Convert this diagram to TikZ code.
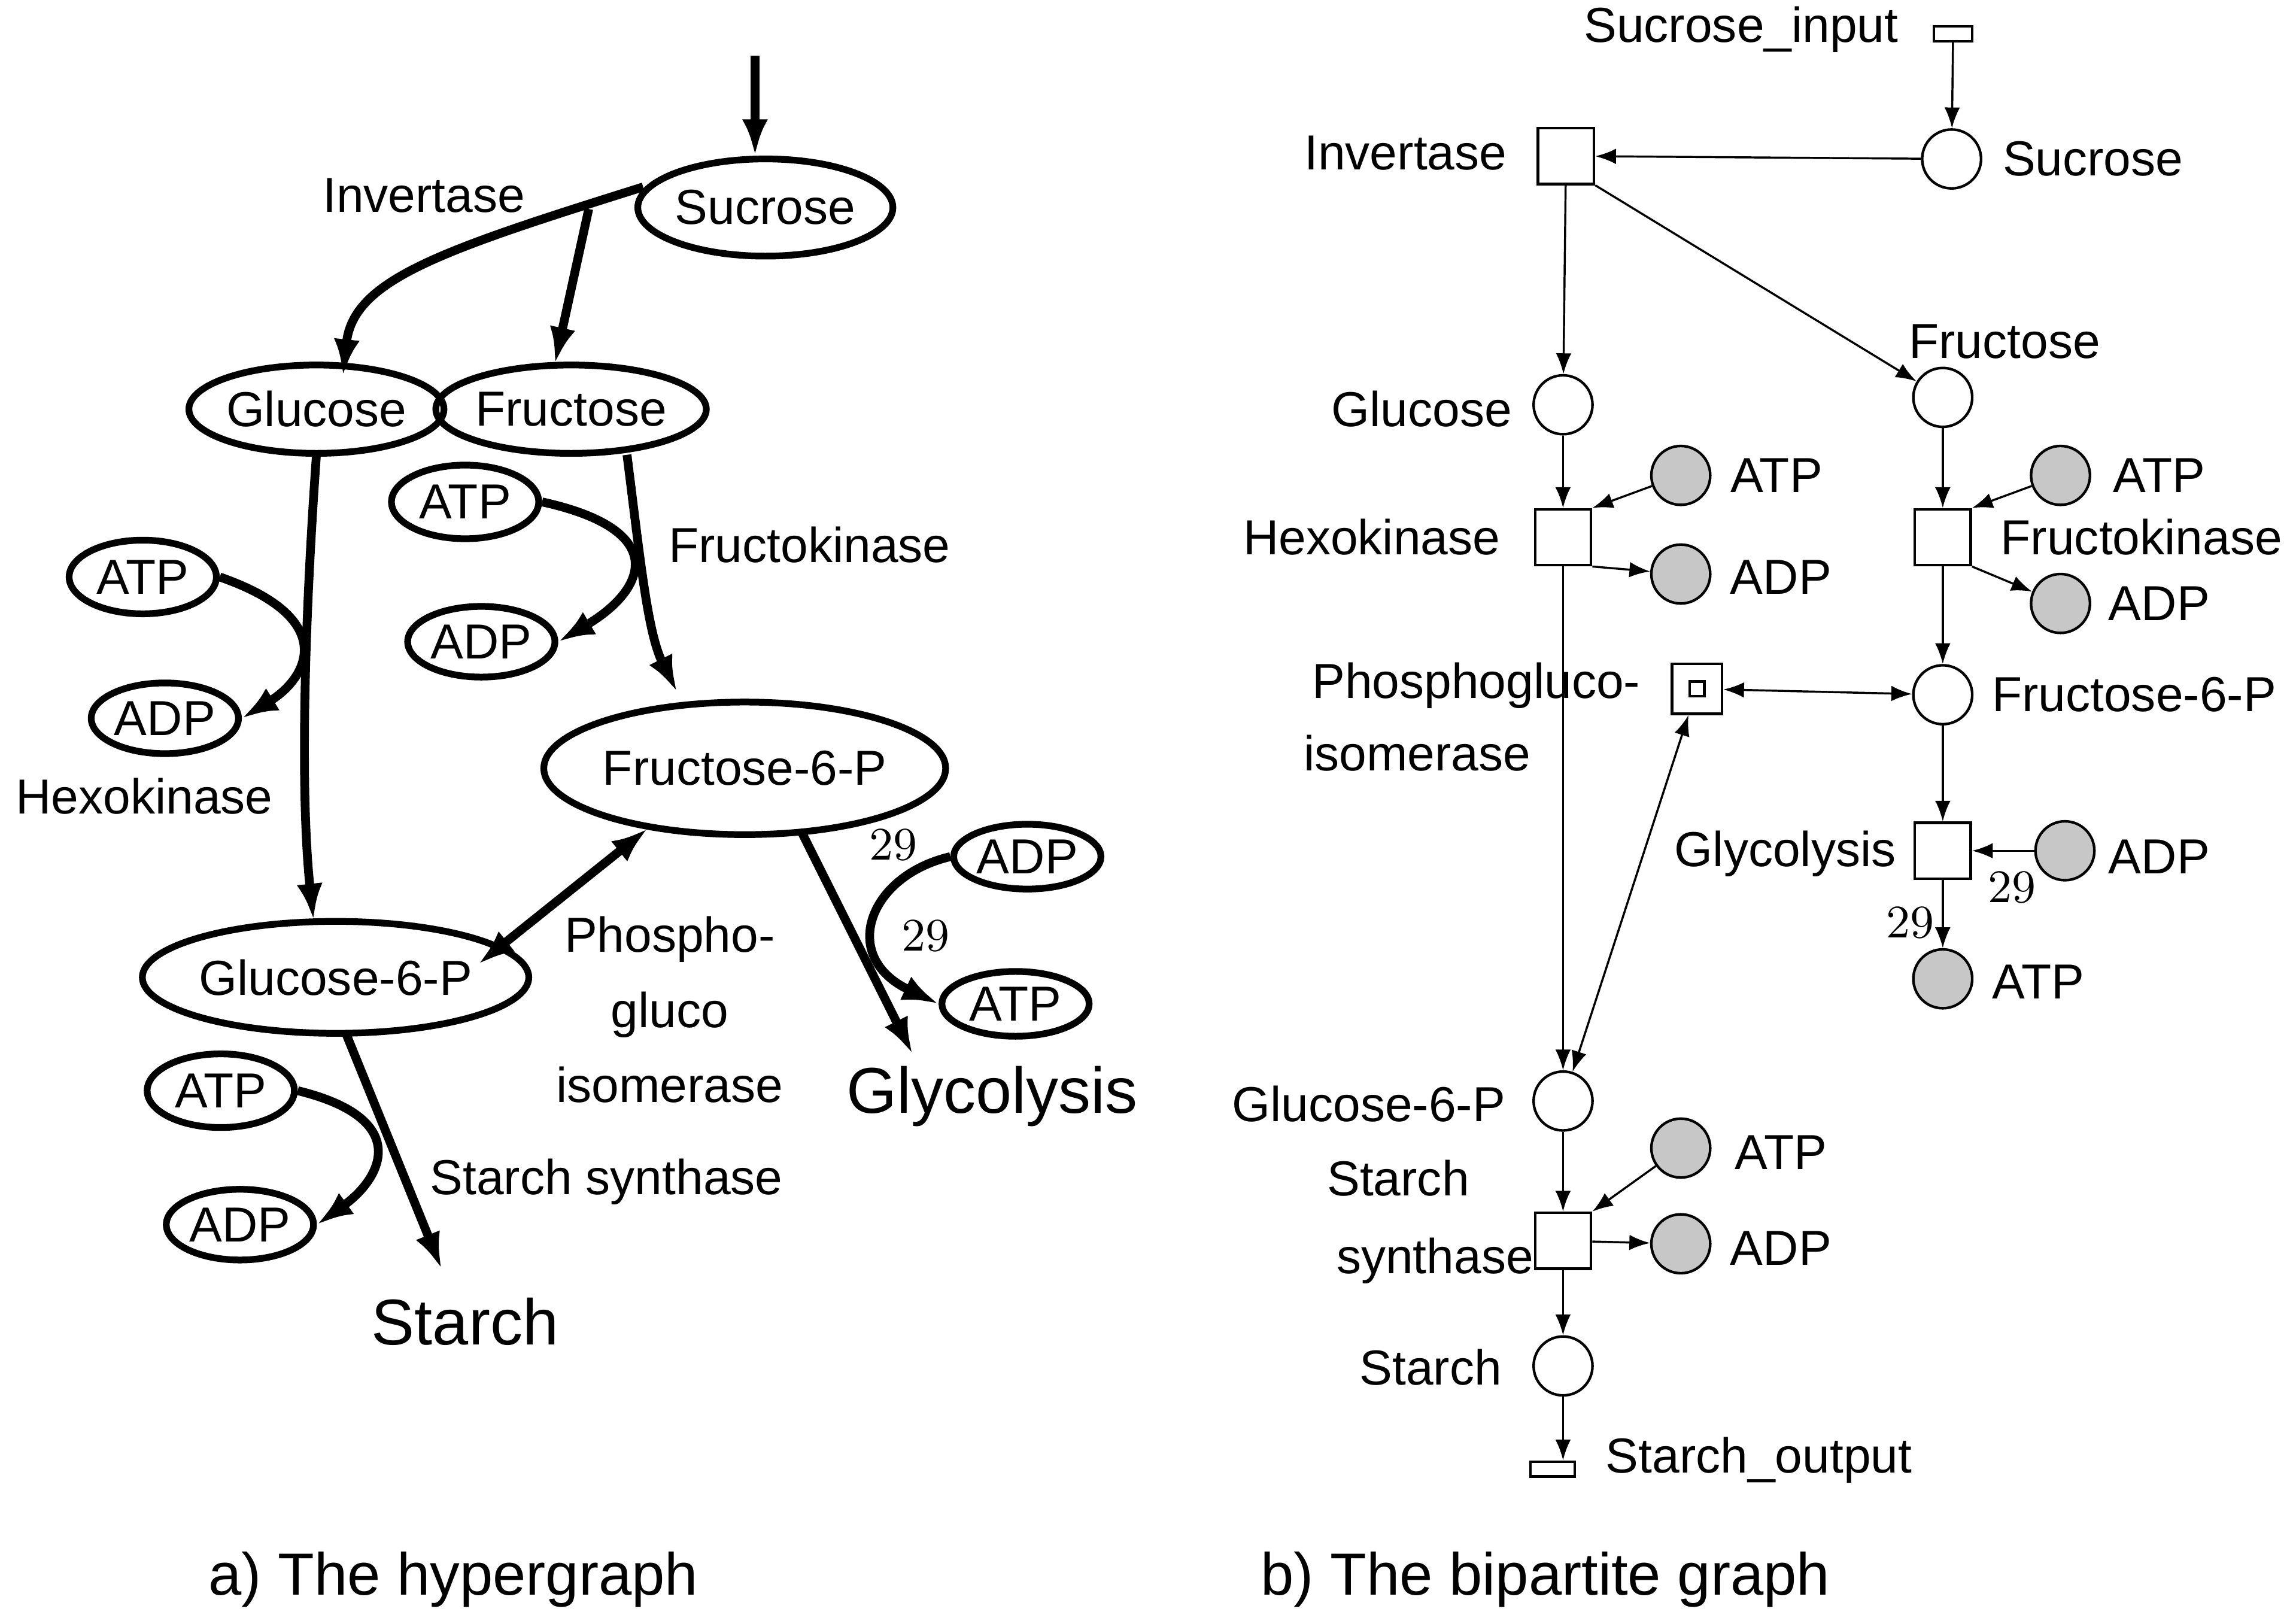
\documentclass[tikz,border=0pt]{standalone}
\usepackage{fontspec}
\setmainfont{Liberation Sans}
\usetikzlibrary{arrows.meta,shapes.geometric}
\begin{document}
\begin{tikzpicture}[x=0.01cm,y=-0.01cm,font=\fontsize{9.5}{11}\selectfont,
  ell/.style={draw,ellipse,line width=1.3pt,inner sep=0pt},
  hyp/.style={line width=1.7pt,-{Latex[length=7pt,width=5pt]}},
  pl/.style={draw,circle,minimum size=0.4cm,inner sep=0pt,line width=0.5pt},
  gpl/.style={pl,fill=black!22},
  tr/.style={draw,rectangle,minimum size=0.38cm,inner sep=0pt,line width=0.5pt},
  io/.style={draw,rectangle,minimum width=0.26cm,minimum height=0.1cm,inner sep=0pt,line width=0.5pt},
  ed/.style={line width=0.4pt,-{Latex[length=4pt,width=3pt]}},
  big/.style={font=\fontsize{12.5}{14}\selectfont},
  num/.style={font=\fontfamily{lmr}\fontsize{9}{10}\selectfont}]
\useasboundingbox (0,0) rectangle (1560,1101);
% ---------- a) hypergraph ----------
\node[ell,minimum width=1.66cm,minimum height=0.66cm] (suc) at (520,141) {Sucrose};
\node[ell,minimum width=1.64cm,minimum height=0.6cm] (glc) at (215,278) {Glucose};
\node[ell,minimum width=1.56cm,minimum height=0.6cm] (fru) at (388,278) {Fructose};
\node[ell,minimum width=1.0cm,minimum height=0.5cm] (atp1) at (316,341) {ATP};
\node[ell,minimum width=1.0cm,minimum height=0.48cm] (adp1) at (327,436) {ADP};
\node[ell,minimum width=1.0cm,minimum height=0.5cm] (atp2) at (97,392) {ATP};
\node[ell,minimum width=1.0cm,minimum height=0.48cm] (adp2) at (112,488) {ADP};
\node[ell,minimum width=2.36cm,minimum height=0.9cm] (f6p) at (506,522) {Fructose-6-P};
\node[ell,minimum width=2.16cm,minimum height=0.76cm] (g6p) at (228,664) {Glucose-6-P};
\node[ell,minimum width=1.0cm,minimum height=0.44cm] (adp3) at (698,582) {ADP};
\node[ell,minimum width=1.0cm,minimum height=0.44cm] (atp3) at (690,682) {ATP};
\node[ell,minimum width=1.0cm,minimum height=0.5cm] (atp4) at (150,741) {ATP};
\node[ell,minimum width=1.0cm,minimum height=0.48cm] (adp4) at (163,832) {ADP};
\node (linv) at (288,133) {Invertase};
\node (lfk) at (550,370) {Fructokinase};
\node (lhk) at (98,541) {Hexokinase};
\node[align=center,font=\fontsize{9.5}{14.5}\selectfont] (lpgi) at (455,686) {Phospho-\\gluco\\isomerase};
\node (lss) at (412,803) {Starch synthase};
\node[big] (starch) at (316,898) {Starch};
\node[big] (glyc) at (674,745) {Glycolysis};
\node[num] (n1) at (607,574) {29};
\node[num] (n2) at (629,636) {29};
\coordinate (top) at (513,38);
\draw[hyp] (top) -- (suc.north -| top);
\draw[hyp] (437,127) .. controls (300,170) and (240,190) .. (glc.north east -| 233,0);
\draw[hyp] (400,142) -- (377,247);
\draw[hyp] (215,309) .. controls (205,450) and (205,550) .. (213,625);
\draw[hyp] (atp2.east) .. controls (230,420) and (210,460) .. (adp2.east);
\draw[hyp] (426,309) .. controls (435,380) and (440,430) .. (460,470);
\draw[hyp] (atp1.east) .. controls (455,360) and (440,400) .. (adp1.east);
\draw[line width=1.7pt,{Latex[length=7pt,width=5pt]}-{Latex[length=7pt,width=5pt]}] (440,563) -- (325,655);
\draw[hyp] (235,702) -- (300,862);
\draw[hyp] (atp4.east) .. controls (280,760) and (260,800) .. (adp4.east);
\draw[hyp] (545,566) -- (620,716);
\draw[hyp] (adp3.west) .. controls (590,595) and (570,650) .. (atp3.west);
\node (capa) at (308,1073) {\fontsize{11.5}{13}\selectfont a) The hypergraph};
% ---------- b) bipartite graph ----------
\node[io] (sin) at (1327,23) {};
\node[pl] (psuc) at (1326,108) {};
\node[tr] (tinv) at (1064,106) {};
\node[pl] (pfru) at (1320,270) {};
\node[pl] (pglc) at (1062,275) {};
\node[tr] (thk) at (1062,365) {};
\node[gpl] (atp5) at (1142,323) {};
\node[gpl] (adp5) at (1142,390) {};
\node[tr] (tfk) at (1320,365) {};
\node[gpl] (atp6) at (1400,323) {};
\node[gpl] (adp6) at (1400,410) {};
\node[tr,minimum size=0.34cm] (tpgi) at (1153,468) {};
\node[draw,rectangle,minimum size=0.1cm,inner sep=0pt,line width=0.5pt] at (tpgi) {};
\node[pl] (pf6p) at (1320,472) {};
\node[tr] (tgly) at (1320,578) {};
\node[gpl] (adp7) at (1403,578) {};
\node[gpl] (atp7) at (1320,665) {};
\node[pl] (pg6p) at (1062,748) {};
\node[tr] (tss) at (1062,843) {};
\node[gpl] (atp8) at (1142,780) {};
\node[gpl] (adp8) at (1142,845) {};
\node[pl] (pst) at (1062,928) {};
\node[io,minimum width=0.3cm] (sout) at (1055,998) {};
\node (l1) at (1183,20) {Sucrose\_input};
\node (l2) at (1422,108) {Sucrose};
\node (l3) at (955,104) {Invertase};
\node (l4) at (1362,232) {Fructose};
\node (l5) at (966,278) {Glucose};
\node (l6) at (932,365) {Hexokinase};
\node (l7) at (1207,323) {ATP};
\node (l8) at (1210,392) {ADP};
\node (l9) at (1455,365) {Fructokinase};
\node (l10) at (1467,323) {ATP};
\node (l11) at (1467,410) {ADP};
\node[align=center,font=\fontsize{9.5}{14}\selectfont] (l12) at (1003,487) {Phosphogluco-\\\hspace*{-0.8cm}isomerase};
\node (l13) at (1450,472) {Fructose-6-P};
\node (l14) at (1213,580) {Glycolysis};
\node (l15) at (1467,582) {ADP};
\node (l16) at (1385,667) {ATP};
\node[num] (l17) at (1367,603) {29};
\node[num] (l18) at (1298,627) {29};
\node (l19) at (930,750) {Glucose-6-P};
\node[align=center,font=\fontsize{9.5}{15}\selectfont] (l20) at (950,830) {Starch\\\hspace*{0.5cm}synthase};
\node (l21) at (1210,783) {ATP};
\node (l22) at (1210,848) {ADP};
\node (l23) at (972,929) {Starch};
\node (l24) at (1195,992) {Starch\_output};
\draw[ed] (sin) -- (psuc);
\draw[ed] (psuc) -- (tinv);
\draw[ed] (tinv) -- (pglc);
\draw[ed] (tinv.south east) -- (pfru);
\draw[ed] (pglc) -- (thk);
\draw[ed] (atp5) -- (thk.north east);
\draw[ed] (thk.south east) -- (adp5);
\draw[ed] (thk) -- (pg6p);
\draw[ed] (pfru) -- (tfk);
\draw[ed] (atp6) -- (tfk.north east);
\draw[ed] (tfk.south east) -- (adp6);
\draw[ed] (tfk) -- (pf6p);
\draw[ed,{Latex[length=4pt,width=3pt]}-{Latex[length=4pt,width=3pt]}] (tpgi) -- (pf6p);
\draw[ed,{Latex[length=4pt,width=3pt]}-{Latex[length=4pt,width=3pt]}] (tpgi) -- (pg6p);
\draw[ed] (pf6p) -- (tgly);
\draw[ed] (adp7) -- (tgly);
\draw[ed] (tgly) -- (atp7);
\draw[ed] (pg6p) -- (tss);
\draw[ed] (atp8) -- (tss.north east);
\draw[ed] (tss) -- (adp8);
\draw[ed] (tss) -- (pst);
\draw[ed] (pst) -- (sout.north -| pst);
\node (capb) at (1050,1073) {\fontsize{11.5}{13}\selectfont b) The bipartite graph};
\end{tikzpicture}
\end{document}
